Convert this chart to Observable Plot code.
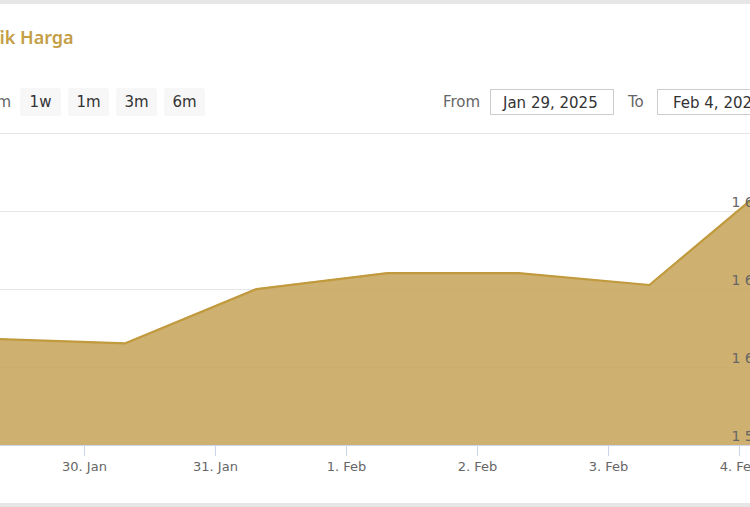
<!DOCTYPE html>
<html>
<head>
<meta charset="utf-8">
<script src="https://cdn.jsdelivr.net/npm/d3@7"></script>
<script src="https://cdn.jsdelivr.net/npm/@observablehq/plot@0.6"></script>
<style>
  html, body { margin: 0; padding: 0; width: 750px; height: 507px; overflow: hidden; background: #fff; }
  body { position: relative; font-family: "DejaVu Sans", sans-serif; }
  .topbar { position: absolute; left: 0; top: 0; width: 750px; height: 4px; background: #e6e6e6; }
  .title { position: absolute; left: -38px; top: 25px; font-family: "Noto Sans", "Open Sans", sans-serif; font-weight: 600; font-size: 18px; color: #c49d45; white-space: nowrap; }
  .btn { position: absolute; top: 88px; height: 28px; line-height: 28px; background: #f7f7f7; border-radius: 3px; font-size: 15px; color: #333; text-align: center; width: 41px; }
  .lbl { position: absolute; top: 90px; font-size: 15px; color: #666; line-height: 24px; }
  .inp { position: absolute; top: 89px; height: 26px; line-height: 26px; border: 1px solid #ccc; font-size: 15px; color: #333; padding-left: 12px; box-sizing: border-box; white-space: nowrap; overflow: hidden; }
  #chart { position: absolute; left: 0; top: 123px; }
  .bottombar { position: absolute; left: 0; top: 503px; width: 750px; height: 4px; background: #e6e6e6; }
</style>
</head>
<body>
<div class="topbar"></div>
<div class="title">Grafik Harga</div>
<div class="lbl" style="left:-13px">1m</div>
<div class="btn" style="left:20px">1w</div>
<div class="btn" style="left:68px">1m</div>
<div class="btn" style="left:116px">3m</div>
<div class="btn" style="left:164px">6m</div>
<div class="lbl" style="left:443px">From</div>
<div class="inp" style="left:490px;width:124px">Jan 29, 2025</div>
<div class="lbl" style="left:628px">To</div>
<div class="inp" style="left:657px;width:124px;padding-left:15px">Feb 4, 2025</div>
<div id="chart"></div>
<div class="bottombar"></div>
<script>
// Data
const dates = ["2025-01-29T07:30Z","2025-01-30T07:30Z","2025-01-31T07:30Z","2025-02-01T07:30Z","2025-02-02T07:30Z","2025-02-03T07:30Z","2025-02-04T07:30Z"];
const prices = [1607300, 1606200, 1620100, 1624200, 1624200, 1621150, 1649300];
const yTicks = [1580000, 1600000, 1620000, 1640000, 1660000];
const yLabelTicks = [1580000, 1600000, 1620000, 1640000];
const xTicks = ["2025-01-30T00:00Z","2025-01-31T00:00Z","2025-02-01T00:00Z","2025-02-02T00:00Z","2025-02-03T00:00Z","2025-02-04T00:00Z"];
const xDomain = ["2025-01-29T08:37Z","2025-02-04T02:01Z"];

const data = dates.map((d, i) => ({date: new Date(d), price: prices[i]}));
const months = ["Jan","Feb","Mar","Apr","May","Jun","Jul","Aug","Sep","Oct","Nov","Dec"];
const fmtX = d => `${d.getUTCDate()}. ${months[d.getUTCMonth()]}`;
const fmtY = v => d3.format(",")(v).replace(/,/g, " ");

const chart = Plot.plot({
  width: 750,
  height: 360,
  marginLeft: 0,
  marginRight: 0,
  marginTop: 10,
  marginBottom: 38,
  style: {fontFamily: "'DejaVu Sans', sans-serif", fontSize: "13px", color: "#666", overflow: "visible"},
  x: {type: "utc", domain: xDomain.map(d => new Date(d)), axis: null},
  y: {domain: [1580000, 1660000], axis: null},
  marks: [
    Plot.ruleY(yTicks, {stroke: "#e6e6e6", strokeWidth: 1, strokeOpacity: 1}),
    Plot.areaY(data, {x: "date", y1: 1580000, y2: "price", fill: "#c6a357", fillOpacity: 0.85, clip: true}),
    Plot.lineY(data, {x: "date", y: "price", stroke: "#c19a3e", strokeWidth: 2.2, clip: true}),
    Plot.ruleY([1580000], {stroke: "#ccd6eb", strokeWidth: 1}),
    Plot.text(yLabelTicks, {y: d => d, text: fmtY, frameAnchor: "right", textAnchor: "start", dx: -19, dy: -9, fill: "#666", fontSize: 14}),
    Plot.axisX(xTicks.map(d => new Date(d)), {tickFormat: fmtX, tickSize: 11, stroke: "#ccd6eb", tickPadding: 5, fill: "#666", fontSize: 13, label: null})
  ]
});
document.getElementById("chart").appendChild(chart);
</script>
</body>
</html>
